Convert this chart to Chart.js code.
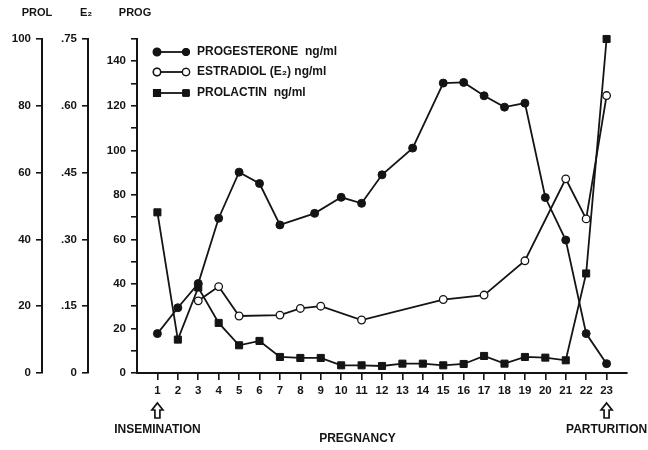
<!DOCTYPE html>
<html>
<head>
<meta charset="utf-8">
<title>Progesterone, estradiol and prolactin during pregnancy</title>
<script src="https://cdn.jsdelivr.net/npm/chart.js@4.4.1/dist/chart.umd.min.js"></script>
<style>
  html, body { margin: 0; padding: 0; background: #fff; }
  #wrap { width: 648px; height: 450px; }
</style>
</head>
<body>
<div id="wrap"><canvas id="hormoneChart" width="648" height="450"></canvas></div>
<script>
"use strict";

// --- data ---
const dayTicks = [1, 2, 3, 4, 5, 6, 7, 8, 9, 10, 11, 12, 13, 14, 15, 16, 17, 18, 19, 20, 21, 22, 23];

const progDays = [1, 2, 3, 4, 5, 6, 7, 8.7, 10, 11, 12, 13.5, 15, 16, 17, 18, 19, 20, 21, 22, 23];
const progesterone = [17.7, 29.3, 40.2, 69.5, 90.2, 85.1, 66.5, 71.7, 78.9, 76.2, 89.0, 101.0, 130.2, 130.5, 124.5, 119.4, 121.2, 78.8, 59.7, 17.7, 4.2];

const e2Days = [3, 4, 5, 7, 8, 9, 11, 15, 17, 19, 21, 22, 23];
const estradiol = [0.162, 0.194, 0.128, 0.130, 0.145, 0.150, 0.119, 0.165, 0.175, 0.252, 0.436, 0.346, 0.623];

const prolDays = [1, 2, 3, 4, 5, 6, 7, 8, 9, 10, 11, 12, 13, 14, 15, 16, 17, 18, 19, 20, 21, 22, 23];
const prolactin = [48.1, 10.0, 25.6, 15.0, 8.3, 9.6, 4.8, 4.5, 4.5, 2.3, 2.3, 2.1, 2.8, 2.8, 2.3, 2.7, 5.1, 2.8, 4.8, 4.6, 3.8, 29.8, 100];

const prolTicks = [0, 20, 40, 60, 80, 100];
const e2Ticks = [0, 0.15, 0.30, 0.45, 0.60, 0.75];
const progTicks = [0, 10, 20, 30, 40, 50, 60, 70, 80, 90, 100, 110, 120, 130, 140, 150];

const seriesLabels = ['PROGESTERONE  ng/ml', 'ESTRADIOL (E\u2082) ng/ml', 'PROLACTIN  ng/ml'];
const axisTitles = ['PROL', 'E\u2082', 'PROG'];

const INK = '#141414';
const FONT = '"Liberation Sans", Arial, sans-serif';

function toPoints(xs, ys) {
    return xs.map((x, i) => ({ x: x, y: ys[i] }));
}

function fixedTicks(list) {
    return (scale) => { scale.ticks = list.map(v => ({ value: v })); };
}

function leftAxis(min, max, ticks, width, weight, fmt) {
    return {
        position: 'left',
        weight: weight,
        min: min, max: max,
        afterBuildTicks: fixedTicks(ticks),
        afterFit: (scale) => { scale.width = width; },
        border: { color: INK, width: 2 },
        grid: { drawOnChartArea: false, drawTicks: true, tickLength: 6, color: INK, lineWidth: 1.6 },
        ticks: { color: INK, font: { family: FONT, size: 11.5, weight: 'bold' }, padding: 5, callback: fmt }
    };
}

function e2Label(v) {
    if (v === 0) return '0';
    return v.toFixed(2).replace(/^0/, '');
}

function progLabel(v) {
    return (v % 20 === 0 && v < 150) ? String(v) : '';
}

function drawArrow(ctx, x, top) {
    ctx.beginPath();
    ctx.moveTo(x, top);
    ctx.lineTo(x + 5.5, top + 7);
    ctx.lineTo(x + 2.5, top + 7);
    ctx.lineTo(x + 2.5, top + 15);
    ctx.lineTo(x - 2.5, top + 15);
    ctx.lineTo(x - 2.5, top + 7);
    ctx.lineTo(x - 5.5, top + 7);
    ctx.closePath();
    ctx.lineWidth = 1.7;
    ctx.strokeStyle = INK;
    ctx.stroke();
}

// axis titles, legend and the annotations under the x axis
const annotations = {
    id: 'annotations',
    afterDraw(chart) {
        const ctx = chart.ctx;
        const xs = chart.scales.x;
        ctx.save();
        ctx.fillStyle = INK;
        ctx.textBaseline = 'middle';
        ctx.textAlign = 'center';
        ctx.font = `bold 11px ${FONT}`;

        const titleX = [37, 86, 135];
        axisTitles.forEach((t, i) => ctx.fillText(t, titleX[i], 13));

        // legend: marker - line - marker, then text
        const rowY = [52, 72, 93];
        chart.data.datasets.forEach((ds, i) => {
            const y = rowY[i];
            ctx.beginPath();
            ctx.moveTo(157, y);
            ctx.lineTo(186, y);
            ctx.lineWidth = 1.8;
            ctx.strokeStyle = INK;
            ctx.stroke();
            [157, 186].forEach(px => {
                Chart.helpers.drawPoint(ctx, {
                    pointStyle: ds.pointStyle,
                    radius: i === 2 ? 4.5 : 3.6,
                    borderWidth: ds.pointBorderWidth
                }, px, y);
                ctx.fillStyle = ds.pointBackgroundColor;
                ctx.strokeStyle = INK;
                ctx.lineWidth = ds.pointBorderWidth;
                ctx.fill();
                ctx.stroke();
            });
            ctx.fillStyle = INK;
            ctx.textAlign = 'left';
            ctx.font = `bold 12px ${FONT}`;
            ctx.fillText(ds.label, 197, y);
        });

        const x1 = xs.getPixelForValue(1);
        const x23 = xs.getPixelForValue(23);
        drawArrow(ctx, x1, 403);
        drawArrow(ctx, x23, 403);

        ctx.fillStyle = INK;
        ctx.textAlign = 'center';
        ctx.font = `bold 12px ${FONT}`;
        ctx.fillText('INSEMINATION', x1, 430);
        ctx.fillText('PARTURITION', x23, 430);
        ctx.fillText('PREGNANCY', xs.getPixelForValue(10.8), 439);
        ctx.restore();
    }
};

new Chart(document.getElementById('hormoneChart').getContext('2d'), {
    type: 'line',
    data: {
        datasets: [
            {
                label: seriesLabels[0],
                data: toPoints(progDays, progesterone),
                yAxisID: 'yProg',
                borderColor: INK, borderWidth: 1.8,
                pointStyle: 'circle', pointRadius: 4,
                pointBackgroundColor: INK, pointBorderColor: INK, pointBorderWidth: 1
            },
            {
                label: seriesLabels[1],
                data: toPoints(e2Days, estradiol),
                yAxisID: 'yE2',
                borderColor: INK, borderWidth: 1.8,
                pointStyle: 'circle', pointRadius: 3.8,
                pointBackgroundColor: '#ffffff', pointBorderColor: INK, pointBorderWidth: 1.3
            },
            {
                label: seriesLabels[2],
                data: toPoints(prolDays, prolactin),
                yAxisID: 'yProl',
                borderColor: INK, borderWidth: 1.8,
                pointStyle: 'rect', pointRadius: 5,
                pointBackgroundColor: INK, pointBorderColor: INK, pointBorderWidth: 1
            }
        ]
    },
    options: {
        responsive: false,
        devicePixelRatio: 1,
        animation: false,
        clip: false,
        layout: { padding: { top: 39, right: 21, left: 0, bottom: 0 } },
        plugins: { legend: { display: false }, tooltip: { enabled: false } },
        scales: {
            x: {
                type: 'linear',
                position: 'bottom',
                min: 0, max: 24,
                afterBuildTicks: fixedTicks(dayTicks),
                afterFit: (scale) => { scale.height = 77; },
                border: { color: INK, width: 2 },
                grid: { drawOnChartArea: false, drawTicks: true, tickLength: 7, color: INK, lineWidth: 1.6 },
                ticks: { color: INK, font: { family: FONT, size: 11.5, weight: 'bold' }, padding: 4, maxRotation: 0, autoSkip: false }
            },
            yProl: leftAxis(0, 100, prolTicks, 42, 3, (v) => String(v)),
            yE2: leftAxis(0, 0.75, e2Ticks, 46, 2, e2Label),
            yProg: leftAxis(0, 150, progTicks, 49, 1, progLabel)
        }
    },
    plugins: [annotations]
});
</script>
</body>
</html>
